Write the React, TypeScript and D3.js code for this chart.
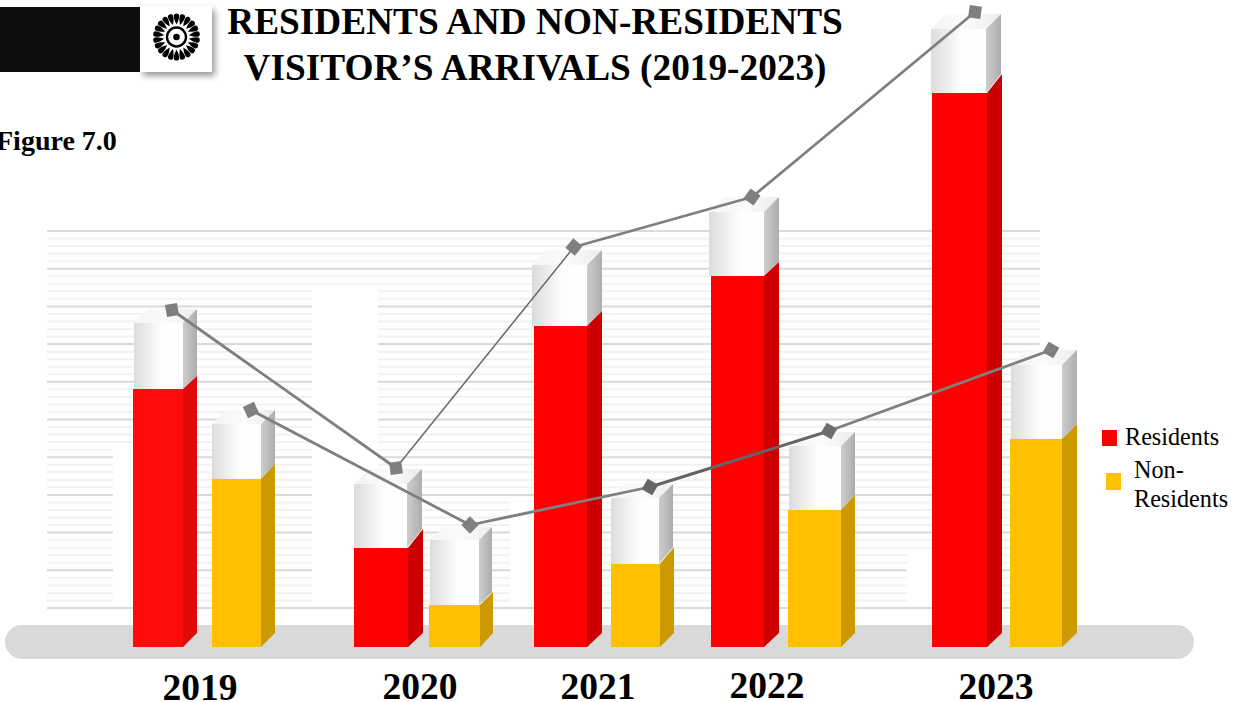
import React from "react";
import * as d3 from "d3";

// Visitor arrivals by year, on the chart's own value axis.
const years = ["2019", "2020", "2021", "2022", "2023"];
const residents = [258, 99, 321, 371, 554];
const nonResidents = [168, 42, 83, 137, 208];
const residentsCap = [324, 163, 382, 435, 618];
const nonResidentsCap = [223, 107, 149, 201, 282];
const residentsLine = [337, 179, 400, 450, 635];
const nonResidentsLine = [237, 122, 160, 216, 297];

// Horizontal layout of each year's group.
const residentLeft = [133, 354, 534, 711, 932];
const residentWidth = [50, 54, 53, 53, 55];
const residentCapLeft = [134, 354, 532, 709, 931];
const residentCapWidth = [49, 53, 55, 55, 55];
const residentDepth = [14, 15, 15, 15, 15];
const residentRise = [13, 19, 15, 14, 19];
const nonResidentLeft = [212, 429, 611, 788, 1010];
const nonResidentWidth = [49, 51, 49, 53, 52];
const nonResidentCapLeft = [212, 430, 611, 789, 1011];
const nonResidentCapWidth = [49, 49, 48, 52, 51];
const nonResidentDepth = [14, 13, 14, 14, 15];
const nonResidentRise = [15, 13, 17, 15, 15];
const residentMarkerX = [172, 396, 574, 752, 975];
const nonResidentMarkerX = [251, 470, 650, 829, 1051];
const residentMarkerAngle = [-10, -8, 40, 35, 8];
const nonResidentMarkerAngle = [-25, 45, 30, 30, 30];
const yearLabelX = [200, 420, 598, 767, 996];
const yearLabelY = [700, 699, 699, 698, 699];

const W = 1241;
const H = 702;
const BASE_Y = 647;
const serif = "'Liberation Serif', 'Times New Roman', serif";

const y = d3.scaleLinear().domain([0, 640]).range([BASE_Y, BASE_Y - 640]);

// Faint ruled backdrop: a heavier rule every fifth line.
const rules = d3.range(0, 51).map((i) => ({
  y: 231 + i * (377 / 50),
  major: i % 5 === 0,
}));

// Blank panels that interrupt the ruled backdrop.
const panels = [
  { x: 113, y: 445, w: 21, h: 161 },
  { x: 312, y: 287, w: 66, h: 319 },
  { x: 510, y: 502, w: 25, h: 104 },
  { x: 907, y: 550, w: 26, h: 56 },
];

type BarProps = {
  x: number;
  w: number;
  capX: number;
  capW: number;
  depth: number;
  rise: number;
  value: number;
  cap: number;
  front: string;
  side: string;
};

function Bar({ x, w, capX, capW, depth, rise, value, cap, front, side }: BarProps) {
  const top = y(value);
  const capTop = y(cap);
  const d = depth;
  const capRight = capX + capW;
  const right = x + w;
  return (
    <g>
      <path
        d={`M${capX},${capTop} L${capX + d},${capTop - d} H${capRight + d} L${capRight},${capTop} Z`}
        fill="url(#capTopFace)"
      />
      <rect x={capX} y={capTop} width={capW} height={top - capTop} fill="url(#capFront)" />
      <path
        d={`M${capRight},${capTop} L${capRight + d},${capTop - d} V${top - rise} L${capRight},${top} Z`}
        fill="url(#capSide)"
      />
      <rect x={x} y={top} width={w} height={BASE_Y - top} fill={front} />
      <path
        d={`M${right},${top} L${right + d},${top - rise} V${BASE_Y - 14} L${right},${BASE_Y} Z`}
        fill={side}
      />
    </g>
  );
}

// Round emblem: a ring of teardrop petals around a ringed dot.
function Emblem({ cx, cy }: { cx: number; cy: number }) {
  const petals = d3.range(22).map((i) => (i * 360) / 22);
  const petal = "M0,-12.5 C1.2,-15 2.8,-18 2.7,-21.5 C2.5,-24.2 -2.5,-24.2 -2.7,-21.5 C-2.8,-18 -1.2,-15 0,-12.5 Z";
  return (
    <g transform={`translate(${cx},${cy})`} fill="#000">
      {petals.map((a) => (
        <path key={a} d={petal} transform={`rotate(${a})`} />
      ))}
      <circle r={9.5} fill="none" stroke="#000" strokeWidth={2.4} />
      <circle r={3.3} />
    </g>
  );
}

type LineProps = {
  xs: number[];
  values: number[];
  angles: number[];
  strokes: string[];
  widths: number[];
  fills: string[];
};

function ConnectedMarkers({ xs, values, angles, strokes, widths, fills }: LineProps) {
  const pts = values.map((v, i) => [xs[i], y(v)] as [number, number]);
  const seg = d3.line();
  const square = d3.symbol().type(d3.symbolSquare).size(150)();
  return (
    <g>
      {pts.slice(1).map((p, i) => (
        <path
          key={years[i]}
          d={seg([pts[i], p]) ?? ""}
          fill="none"
          stroke={strokes[i]}
          strokeWidth={widths[i]}
        />
      ))}
      {pts.map(([px, py], i) => (
        <path
          key={years[i]}
          d={square ?? ""}
          transform={`translate(${px},${py}) rotate(${angles[i]})`}
          fill={fills[i]}
        />
      ))}
    </g>
  );
}

export default function App() {
  return (
    <svg
      width={W}
      height={H}
      viewBox={`0 0 ${W} ${H}`}
      style={{ position: "absolute", left: 0, top: 0, background: "#fff" }}
    >
      <defs>
        <linearGradient id="capFront" x1="0" x2="1" y1="0" y2="0">
          <stop offset="0" stopColor="#dcdcdc" />
          <stop offset="0.55" stopColor="#fdfdfd" />
          <stop offset="1" stopColor="#ffffff" />
        </linearGradient>
        <linearGradient id="capTopFace" x1="0" x2="1" y1="0" y2="0">
          <stop offset="0" stopColor="#f4f4f4" />
          <stop offset="0.5" stopColor="#fbfbfb" />
          <stop offset="1" stopColor="#ececec" />
        </linearGradient>
        <linearGradient id="capSide" x1="0" x2="1" y1="0" y2="0">
          <stop offset="0" stopColor="#cdcdcd" />
          <stop offset="1" stopColor="#adadad" />
        </linearGradient>
        <filter id="tileShadow" x="-20%" y="-20%" width="150%" height="150%">
          <feDropShadow dx="3" dy="4" stdDeviation="3" floodColor="#000" floodOpacity="0.4" />
        </filter>
      </defs>

      {/* Ruled backdrop */}
      {rules.map((r) => (
        <line
          key={r.y}
          x1={47}
          x2={1040}
          y1={r.y}
          y2={r.y}
          stroke={r.major ? "#d9d9d9" : "#f2f2f2"}
          strokeWidth={2}
        />
      ))}
      {panels.map((p) => (
        <rect key={p.x} x={p.x} y={p.y} width={p.w} height={p.h} fill="#fff" />
      ))}

      {/* Ground strip */}
      <rect x={5} y={625} width={1189} height={34} rx={17} fill="#d9d9d9" />

      {/* Bars */}
      {years.map((yr, i) => (
        <g key={yr}>
          <Bar
            x={residentLeft[i]}
            w={residentWidth[i]}
            capX={residentCapLeft[i]}
            capW={residentCapWidth[i]}
            depth={residentDepth[i]}
            rise={residentRise[i]}
            value={residents[i]}
            cap={residentsCap[i]}
            front={i === 0 ? "#ff0b0b" : "#ff0000"}
            side={i === 0 ? "#dc0a0a" : "#cc0000"}
          />
          <Bar
            x={nonResidentLeft[i]}
            w={nonResidentWidth[i]}
            capX={nonResidentCapLeft[i]}
            capW={nonResidentCapWidth[i]}
            depth={nonResidentDepth[i]}
            rise={nonResidentRise[i]}
            value={nonResidents[i]}
            cap={nonResidentsCap[i]}
            front="#ffc000"
            side="#cc9a00"
          />
        </g>
      ))}

      <ConnectedMarkers
        xs={residentMarkerX}
        values={residentsLine}
        angles={residentMarkerAngle}
        strokes={["#7f7f7f", "#6a6a6a", "#7f7f7f", "#7f7f7f"]}
        widths={[2.8, 1.5, 2.8, 2.8]}
        fills={["#7f7f7f", "#7f7f7f", "#7f7f7f", "#7f7f7f", "#7f7f7f"]}
      />
      <ConnectedMarkers
        xs={nonResidentMarkerX}
        values={nonResidentsLine}
        angles={nonResidentMarkerAngle}
        strokes={["#7f7f7f", "#7f7f7f", "#646464", "#7f7f7f"]}
        widths={[2.8, 2.8, 3, 2.8]}
        fills={["#7f7f7f", "#7f7f7f", "#666666", "#6e6e6e", "#7f7f7f"]}
      />

      {/* Header */}
      <rect x={0} y={7} width={140} height={65} fill="#0d0d0d" />
      <rect x={140} y={6} width={72} height={66} fill="#fff" filter="url(#tileShadow)" />
      <Emblem cx={176.5} cy={37} />
      <g fontFamily={serif} fontWeight={700} fontSize={37.3} textAnchor="middle" fill="#000">
        <text x={535} y={34}>RESIDENTS AND NON-RESIDENTS</text>
        <text x={535} y={79.5}>VISITOR’S ARRIVALS (2019-2023)</text>
      </g>
      <text x={-4} y={150} fontFamily={serif} fontWeight={700} fontSize={28} fill="#000">
        Figure 7.0
      </text>

      {/* Year labels */}
      {years.map((yr, i) => (
        <text
          key={yr}
          x={yearLabelX[i]}
          y={yearLabelY[i]}
          fontFamily={serif}
          fontWeight={700}
          fontSize={37.5}
          textAnchor="middle"
          fill="#000"
        >
          {yr}
        </text>
      ))}

      {/* Legend */}
      <rect x={1102} y={430} width={15} height={16} fill="#ff0000" />
      <text x={1125} y={445} fontFamily={serif} fontSize={24.2} fill="#000">Residents</text>
      <rect x={1106} y={473} width={15} height={17} fill="#ffc000" />
      <text x={1134} y={478} fontFamily={serif} fontSize={24.2} fill="#000">Non-</text>
      <text x={1134} y={507} fontFamily={serif} fontSize={24.2} fill="#000">Residents</text>
    </svg>
  );
}
